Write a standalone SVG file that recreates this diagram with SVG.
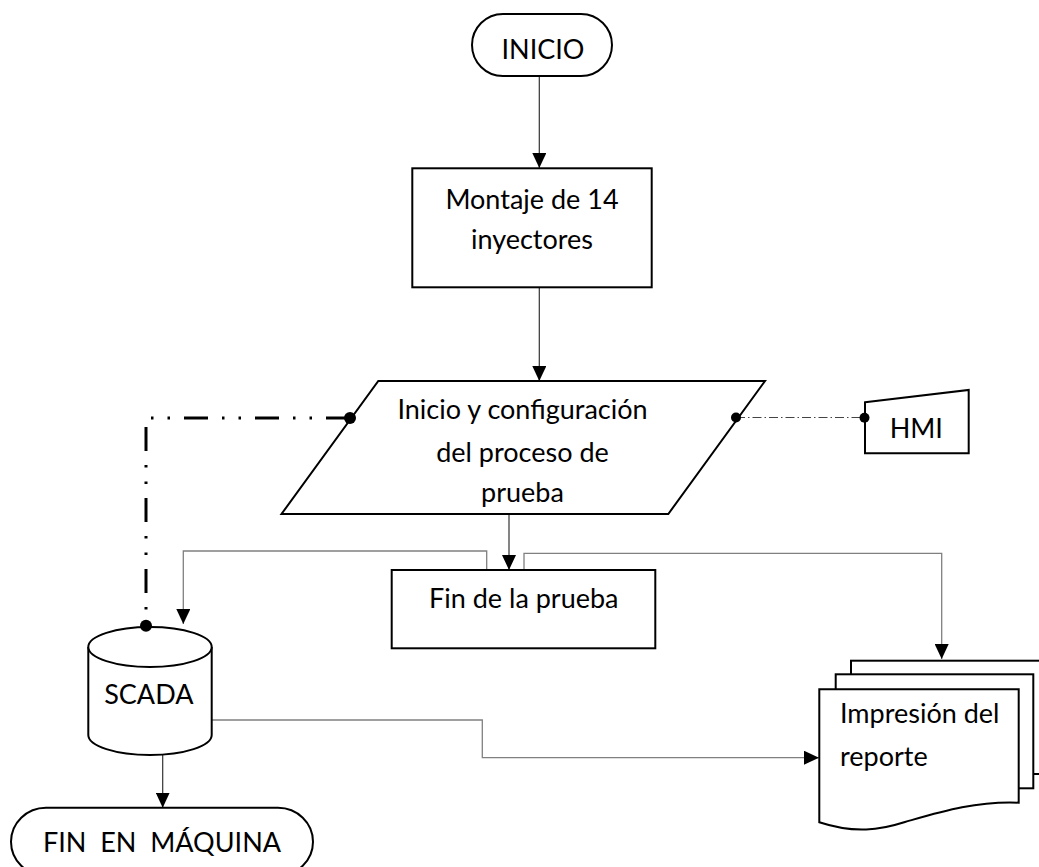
<svg xmlns="http://www.w3.org/2000/svg" width="1039" height="867" viewBox="0 0 1039 867">
<defs>
<style>
.shape{fill:#fff;stroke:#000;stroke-width:2}
.t{font-family:Lato,"Liberation Sans",sans-serif;font-size:27px;fill:#000}
.c{fill:none;stroke:#333;stroke-width:1.2}
.g{fill:none;stroke:#808080;stroke-width:1.3}
.dot{fill:#000}
</style>
<marker id="arr" markerWidth="15" markerHeight="14" refX="15" refY="7" orient="auto" markerUnits="userSpaceOnUse" viewBox="0 0 15 14"><path d="M0,0 L15,7 L0,14 Z" fill="#000"/></marker>
</defs>
<rect width="1039" height="867" fill="#fff"/>
<g id="connectors">
<path class="c" d="M539.3,76 V168" marker-end="url(#arr)"/>
<path class="c" d="M539.3,287 V381" marker-end="url(#arr)"/>
<path class="c" d="M509,514 V570" marker-end="url(#arr)"/>
<path class="g" d="M486.7,570 V551 H183.3 V624" marker-end="url(#arr)"/>
<path class="g" d="M524,570 V553.3 H941.7 V659" marker-end="url(#arr)"/>
<path class="g" d="M211.7,720 H482.3 V757.7 H819" marker-end="url(#arr)"/>
<path class="c" d="M162.7,750 V807.7" marker-end="url(#arr)"/>
<path d="M350,418 H146 V625" fill="none" stroke="#000" stroke-width="3" stroke-dasharray="24 14 2.5 14 2.5 14"/>
<path d="M736,417.5 H864.5" fill="none" stroke="#444" stroke-width="1" stroke-dasharray="9 3 1.5 3"/>
</g>
<g id="inicio">
<rect class="shape" x="472" y="14" width="140" height="62" rx="31" ry="31"/>
<text class="t" x="543" y="59" text-anchor="middle" font-size="24.5">INICIO</text>
</g>
<g id="montaje">
<rect class="shape" x="412.3" y="168.3" width="239.4" height="119"/>
<text class="t" x="532" y="209.3" text-anchor="middle">Montaje de 14</text>
<text class="t" x="532" y="249.3" text-anchor="middle">inyectores</text>
</g>
<g id="config">
<polygon class="shape" points="378.3,381 765,381 668.3,514 281.5,514"/>
<text class="t" x="522.5" y="419.3" text-anchor="middle">Inicio y configuración</text>
<text class="t" x="522.5" y="461.5" text-anchor="middle">del proceso de</text>
<text class="t" x="522.5" y="501.7" text-anchor="middle">prueba</text>
<circle class="dot" cx="350" cy="418" r="6"/>
<circle class="dot" cx="736" cy="417.5" r="5"/>
</g>
<g id="hmi">
<polygon class="shape" points="865,402.3 968.7,390 968.7,453.3 865,453.3"/>
<text class="t" x="916.3" y="437.7" text-anchor="middle" font-size="24.5">HMI</text>
<circle class="dot" cx="864.5" cy="417.7" r="5"/>
</g>
<g id="fin-prueba">
<rect class="shape" x="391.7" y="570" width="263.6" height="78.3"/>
<text class="t" x="523.8" y="608.3" text-anchor="middle">Fin de la prueba</text>
</g>
<g id="scada">
<path class="shape" d="M88.3,647 V735 A61.7,20 0 0 0 211.7,735 V647 A61.7,20 0 0 0 88.3,647 Z"/>
<path class="shape" fill="none" d="M88.3,647 A61.7,20 0 0 0 211.7,647"/>
<text class="t" x="148.8" y="704" text-anchor="middle" font-size="28">SCADA</text>
<circle class="dot" cx="146" cy="625.7" r="6"/>
</g>
<g id="reporte">
<rect class="shape" x="851" y="660.7" width="200" height="113.3"/>
<rect class="shape" x="835.7" y="674.3" width="197.6" height="114"/>
<path class="shape" d="M819.3,689.3 H1018.7 V802.7 C975,801 940,812 905,822 C880,830 855,834 819.3,822.3 Z"/>
<text class="t" x="840" y="723">Impresión del</text>
<text class="t" x="840" y="766">reporte</text>
</g>
<g id="fin-maquina">
<path class="shape" d="M46,807.7 H278 A35,34 0 0 1 278,875.7 H46 A35,34 0 0 1 46,807.7 Z"/>
<text class="t" x="162" y="851.7" text-anchor="middle" font-size="25" xml:space="preserve">FIN  EN  MÁQUINA</text>
</g>
</svg>
